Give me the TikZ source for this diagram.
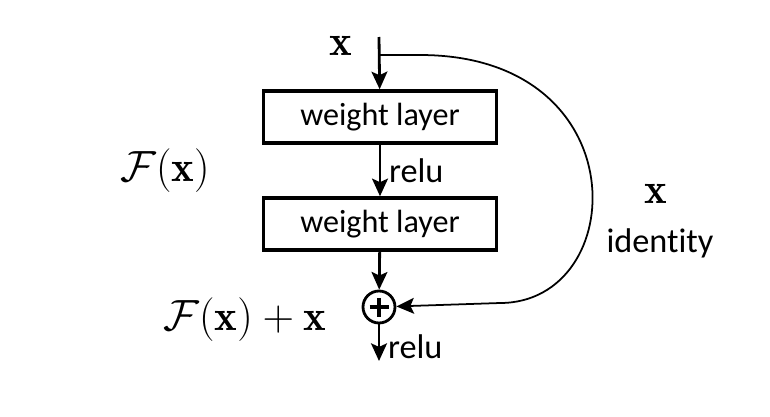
\documentclass[tikz,border=0pt]{standalone}
\usepackage{amsmath}
\usepackage{fontspec}
\newfontfamily\labelfont[Ligatures=NoCommon]{Carlito}
\usetikzlibrary{arrows.meta, positioning}
\tikzset{
	layerbox/.style={
			draw=black,
			line width=2pt,
			minimum width=4.66cm,
			minimum height=1.04cm,
			inner sep=0pt,
			font=\labelfont\fontsize{18.3}{20}\selectfont
		},
	addnode/.style={
			circle,
			draw=black,
			line width=1.6pt,
			minimum size=0.64cm,
			inner sep=0pt,
			path picture={
				\draw[line width=1.8pt]
				([xshift=-0.19cm]path picture bounding box.center) --
				([xshift=0.19cm]path picture bounding box.center)
				([yshift=-0.19cm]path picture bounding box.center) --
				([yshift=0.19cm]path picture bounding box.center);
			}
		},
	flow/.style={
			line width=1.6pt,
			-{Stealth[length=10pt,width=9pt,inset=2pt]}
		},
	skip/.style={
			line width=1pt,
			-{Stealth[length=10pt,width=9pt,inset=2pt]}
		},
	mathlabel/.style={
			font=\fontsize{24.5}{28}\selectfont
		},
	textlabel/.style={
			font=\labelfont\fontsize{19.5}{22}\selectfont
		}
}

\begin{document}
\begin{tikzpicture}[x=0.02cm, y=-0.02cm]
\useasboundingbox (0,0) rectangle (770,416);
\coordinate (in) at (379,37);
\coordinate (split) at (379,55);
\node[layerbox] (w1) at (380,117) { weight layer };
\node[layerbox] (w2) at (380,224) { weight layer };
\node[addnode] (add) at (379,307) {};
\coordinate (out) at (379,361);

\draw[flow] (in) -- (w1);
\draw[flow] (w1) -- node[textlabel, right=1pt] {relu} (w2);
\draw[flow] (w2) -- (add);
\draw[flow] (add) -- node[textlabel, right=1pt, pos=0.6] {relu} (out);

% identity shortcut
\draw[skip] (split) -- (420,55) .. controls (640,55) and (630,303) .. (500,303) -- (add);

\node[mathlabel] (xin) at (341,46) {$\mathbf{x}$};
\node[mathlabel] (fx) at (165,171) {$\mathcal{F}(\mathbf{x})$};
\node[mathlabel] (fxx) at (245,320) {$\mathcal{F}(\mathbf{x})+\mathbf{x}$};
\node[mathlabel] (xid) at (656,194) {$\mathbf{x}$};
\node[textlabel] (ident) at (660,243) {identity};
\end{tikzpicture}
\end{document}
